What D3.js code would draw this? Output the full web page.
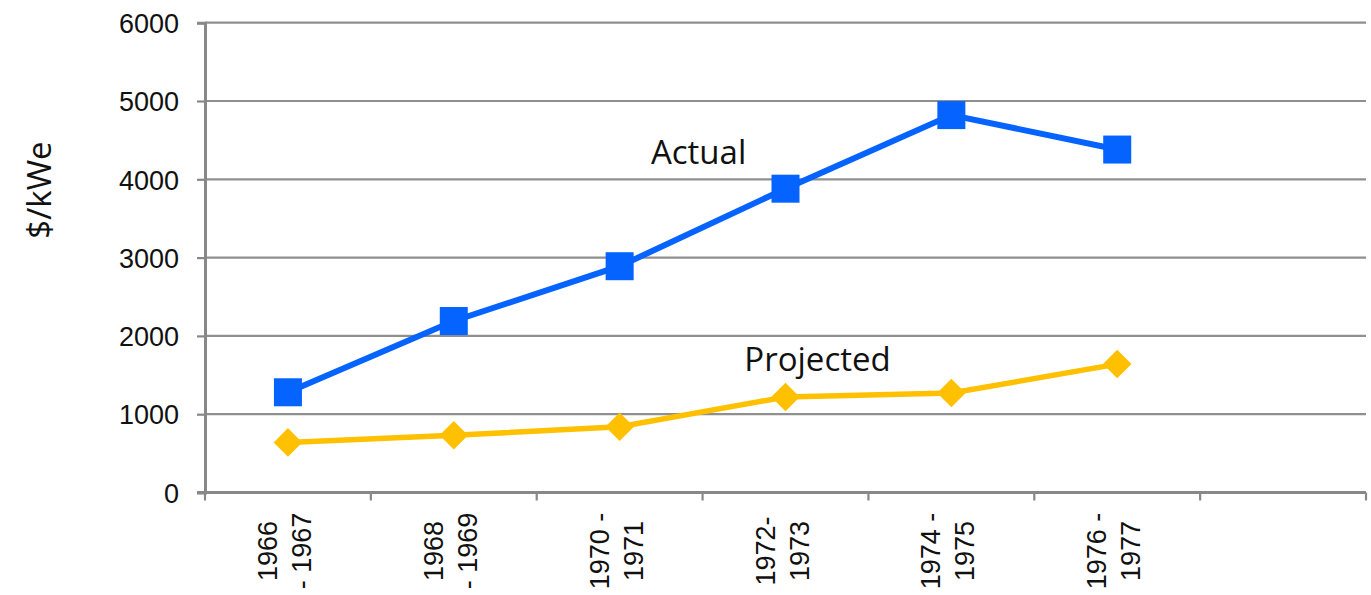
<!DOCTYPE html>
<html>
<head>
<meta charset="utf-8">
<script src="https://cdn.jsdelivr.net/npm/d3@7"></script>
<style>
  body { margin: 0; background: #fff; }
  svg { display: block; }
</style>
</head>
<body>
<svg id="chart" width="1371" height="595"></svg>
<script>
// periods along the x axis (last slot is left empty, as in the original)
const periods = ["1966-1967", "1968-1969", "1970-1971", "1972-1973", "1974-1975", "1976-1977", ""];
const periodLabels = [
  ["1966", "- 1967"],
  ["1968", "- 1969"],
  ["1970 -", "1971"],
  ["1972-", "1973"],
  ["1974 -", "1975"],
  ["1976 -", "1977"]
];
const actual = [1280, 2190, 2890, 3880, 4820, 4380];
const projected = [640, 730, 840, 1220, 1270, 1640];
const yTicks = [0, 1000, 2000, 3000, 4000, 5000, 6000];

const svg = d3.select("#chart");

const x = d3.scaleBand()
  .domain(periods)
  .range([205, 1366])
  .padding(0);

const y = d3.scaleLinear()
  .domain([0, 6000])
  .range([492.5, 22.7]);

const cx = i => x(periods[i]) + x.bandwidth() / 2;

/**
 * GRID + AXES
 */
svg.append("g")
  .selectAll("line")
  .data(yTicks.filter(d => d > 0))
  .join("line")
  .attr("x1", 205)
  .attr("x2", 1366)
  .attr("y1", d => y(d))
  .attr("y2", d => y(d))
  .attr("stroke", "#8f8f8f")
  .attr("stroke-width", 2.2);

// y axis
const yAxis = svg.append("g")
  .attr("transform", "translate(205,0)")
  .call(d3.axisLeft(y).tickValues(yTicks).tickSize(8).tickFormat(d3.format("d")));

yAxis.select(".domain").attr("stroke", "#888").attr("stroke-width", 3);
yAxis.selectAll(".tick line").attr("stroke", "#888").attr("stroke-width", 2.2);
yAxis.selectAll(".tick text")
  .attr("x", -26)
  .attr("dy", "0.36em")
  .attr("fill", "#111")
  .style("font-family", "'Liberation Sans', Arial, sans-serif")
  .style("font-size", "27px");

// x axis line with ticks between categories
const xAxis = svg.append("g");
xAxis.append("line")
  .attr("x1", 197)
  .attr("x2", 1366)
  .attr("y1", y(0))
  .attr("y2", y(0))
  .attr("stroke", "#888")
  .attr("stroke-width", 3);

xAxis.selectAll("line.tick")
  .data(periods.map(p => x(p)).concat([x.range()[1]]))
  .join("line")
  .attr("class", "tick")
  .attr("x1", d => d)
  .attr("x2", d => d)
  .attr("y1", y(0))
  .attr("y2", y(0) + 8)
  .attr("stroke", "#888")
  .attr("stroke-width", 2.2);

// rotated, two-line category labels
const lab = xAxis.selectAll("g.lab")
  .data(periodLabels)
  .join("g")
  .attr("class", "lab")
  .attr("transform", (d, i) => `translate(${cx(i) - 3},551) rotate(-90)`);

lab.selectAll("text")
  .data(d => d)
  .join("text")
  .attr("x", 0)
  .attr("y", (d, j) => j === 0 ? -8 : 26)
  .attr("text-anchor", "middle")
  .attr("fill", "#111")
  .style("font-family", "'Liberation Sans', Arial, sans-serif")
  .style("font-size", "27px")
  .text(d => d);

// y axis title
svg.append("text")
  .attr("transform", "translate(51,190) rotate(-90)")
  .attr("text-anchor", "middle")
  .attr("fill", "#111")
  .style("font-family", "'Open Sans', sans-serif")
  .style("font-size", "33px")
  .text("$/kWe");

/**
 * SERIES
 */
const line = d3.line()
  .x((d, i) => cx(i))
  .y(d => y(d));

svg.append("path")
  .datum(projected)
  .attr("d", line)
  .attr("fill", "none")
  .attr("stroke", "#ffc000")
  .attr("stroke-width", 5.5);

svg.append("path")
  .datum(actual)
  .attr("d", line)
  .attr("fill", "none")
  .attr("stroke", "#0563ff")
  .attr("stroke-width", 6);

svg.append("g")
  .selectAll("path")
  .data(projected)
  .join("path")
  .attr("d", d3.symbol().type(d3.symbolDiamond2).size(520))
  .attr("transform", (d, i) => `translate(${cx(i)},${y(d)})`)
  .attr("fill", "#ffc000");

svg.append("g")
  .selectAll("rect")
  .data(actual)
  .join("rect")
  .attr("x", (d, i) => cx(i) - 14)
  .attr("y", d => y(d) - 14)
  .attr("width", 28)
  .attr("height", 28)
  .attr("fill", "#0563ff");

/**
 * SERIES LABELS
 */
svg.append("text")
  .attr("x", (cx(2) + cx(3)) / 2 - 4)
  .attr("y", y(4200))
  .attr("text-anchor", "middle")
  .attr("fill", "#111")
  .style("font-family", "'Open Sans', sans-serif")
  .style("font-size", "33px")
  .text("Actual");

svg.append("text")
  .attr("x", cx(3) + 32)
  .attr("y", y(1550))
  .attr("text-anchor", "middle")
  .attr("fill", "#111")
  .style("font-family", "'Open Sans', sans-serif")
  .style("font-size", "33px")
  .text("Projected");
</script>
</body>
</html>
